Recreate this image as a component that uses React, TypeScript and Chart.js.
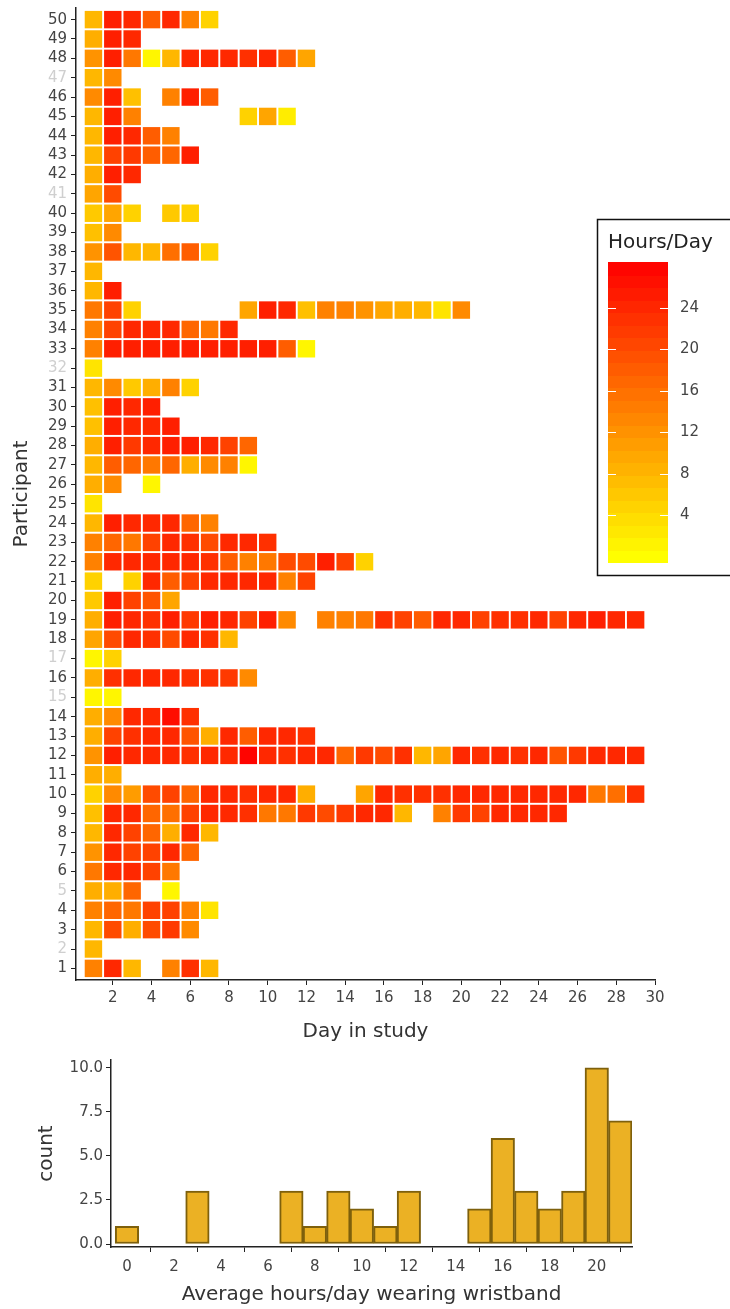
import React, { useEffect, useRef } from "react";
import { Chart, registerables } from "chart.js";

Chart.register(...registerables);

// ---------- DATA ----------
const participants = [
  1, 2, 3, 4, 5, 6, 7, 8, 9, 10, 11, 12, 13, 14, 15, 16, 17, 18, 19, 20, 21, 22, 23, 24, 25,
  26, 27, 28, 29, 30, 31, 32, 33, 34, 35, 36, 37, 38, 39, 40, 41, 42, 43, 44, 45, 46, 47, 48, 49, 50,
];
const greyParticipants = [2, 5, 15, 17, 32, 41, 47];
const dayTicks = [2, 4, 6, 8, 10, 12, 14, 16, 18, 20, 22, 24, 26, 28, 30];
const legendTicks = [4, 8, 12, 16, 20, 24];

// hours/day worn, per participant (index 0 = participant 1), per day in study (index 0 = day 1)
const N = null;
const hoursByParticipant: (number | null)[][] = [
  [14, 24, 8, N, 14, 23, 8], // 1
  [8], // 2
  [8, 20, 9, 20, 22, 13], // 3
  [14, 17, 15, 21, 21, 14, 3], // 4
  [9, 9, 17, N, 1], // 5
  [15, 24, 24, 21, 15], // 6
  [12, 24, 21, 21, 24, 17], // 7
  [8, 24, 21, 17, 9, 24, 8], // 8
  [7, 24, 24, 17, 16, 21, 24, 24, 23, 15, 15, 22, 20, 22, 24, 24, 8, N, 14, 22, 21, 24, 24, 24, 24], // 9
  [5, 13, 11, 20, 21, 17, 24, 24, 23, 24, 24, 9, N, N, 10, 24, 23, 23, 23, 24, 24, 24, 24, 24, 24, 24, 15, 16, 23], // 10
  [9, 9], // 11
  [12, 25, 24, 24, 24, 23, 24, 24, 28, 24, 23, 24, 24, 17, 22, 20, 23, 8, 10, 24, 23, 24, 23, 24, 19, 22, 24, 24, 24], // 12
  [9, 21, 23, 24, 24, 19, 9, 24, 18, 24, 24, 23], // 13
  [9, 13, 24, 24, 27, 23], // 14
  [1, 1], // 15
  [9, 23, 24, 24, 24, 23, 23, 22, 13], // 16
  [1, 5], // 17
  [10, 20, 24, 23, 20, 24, 23, 8], // 18
  [9, 25, 24, 23, 25, 22, 25, 24, 21, 25, 13, N, 14, 14, 15, 23, 21, 18, 24, 24, 21, 23, 23, 24, 21, 24, 25, 24, 24], // 19
  [6, 25, 21, 19, 10], // 20
  [5, N, 5, 24, 18, 21, 24, 24, 24, 24, 14, 21], // 21
  [14, 24, 24, 24, 24, 24, 23, 18, 14, 15, 20, 20, 25, 21, 5], // 22
  [14, 17, 15, 21, 24, 23, 20, 24, 24, 23], // 23
  [8, 25, 24, 24, 24, 17, 14], // 24
  [3], // 25
  [9, 13, N, 1], // 26
  [8, 18, 17, 15, 17, 9, 13, 14, 1], // 27
  [9, 25, 22, 24, 25, 25, 24, 21, 17], // 28
  [7, 25, 24, 24, 25], // 29
  [7, 25, 24, 25], // 30
  [8, 13, 6, 9, 14, 5], // 31
  [3], // 32
  [14, 25, 25, 25, 25, 25, 25, 25, 25, 25, 18, 1], // 33
  [14, 21, 24, 24, 24, 17, 15, 24], // 34
  [15, 21, 5, N, N, N, N, N, 10, 25, 24, 7, 14, 14, 12, 10, 9, 8, 3, 13], // 35
  [8, 25], // 36
  [8], // 37
  [12, 19, 8, 8, 16, 18, 5], // 38
  [7, 13], // 39
  [6, 10, 5, N, 6, 5], // 40
  [10, 20], // 41
  [9, 25, 24], // 42
  [8, 21, 22, 18, 17, 25], // 43
  [8, 25, 24, 18, 14], // 44
  [8, 25, 14, N, N, N, N, N, 5, 10, 2], // 45
  [13, 25, 7, N, 14, 25, 18], // 46
  [8, 13], // 47
  [12, 25, 15, 1, 8, 24, 24, 24, 23, 24, 18, 10], // 48
  [9, 25, 24], // 49
  [8, 25, 24, 18, 24, 14, 5], // 50
];

const histBins = [0, 1, 2, 3, 4, 5, 6, 7, 8, 9, 10, 11, 12, 13, 14, 15, 16, 17, 18, 19, 20, 21];
const histCounts = [1, 0, 0, 3, 0, 0, 0, 3, 1, 3, 2, 1, 3, 0, 0, 2, 6, 3, 2, 3, 10, 7];
const histTicks = [0, 2, 4, 6, 8, 10, 12, 14, 16, 18, 20];
const countTicks = [0, 2.5, 5, 7.5, 10];

// ---------- STYLE ----------
const FONT = "'DejaVu Sans', sans-serif";
const TICK_COLOR = "#444";
const TITLE_COLOR = "#333";
const AXIS_COLOR = "#222";
const V_MIN = -0.5;
const V_MAX = 28.4;

function heatColor(v: number) {
  const t = Math.min(Math.max(v, 0), V_MAX) / V_MAX;
  return `rgb(255,${Math.round(255 * (1 - t))},0)`;
}

const legendPlugin = {
  id: "hoursLegend",
  afterDraw(chart: any) {
    const ctx = chart.ctx as CanvasRenderingContext2D;
    ctx.save();
    const bx = 597, by = 219, bw = 170, bh = 356;
    ctx.fillStyle = "#fff";
    ctx.fillRect(bx, by, bw, bh);
    ctx.strokeStyle = "#111";
    ctx.lineWidth = 1.5;
    ctx.strokeRect(bx + 0.5, by + 0.5, bw, bh);
    ctx.fillStyle = "#222";
    ctx.font = `20px ${FONT}`;
    ctx.textBaseline = "middle";
    ctx.textAlign = "left";
    ctx.fillText("Hours/Day", 608, 243);

    const left = 608, width = 60, top = 262, bottom = 562;
    const yOf = (v: number) => bottom - ((v - V_MIN) / (V_MAX - V_MIN)) * (bottom - top);
    const n = 24;
    const step = (V_MAX - V_MIN) / n;
    for (let i = 0; i < n; i++) {
      const v0 = V_MIN + i * step;
      const y1 = yOf(v0 + step);
      const y0 = yOf(v0);
      ctx.fillStyle = heatColor(v0 + step / 2);
      ctx.fillRect(left, Math.floor(y1), width, Math.ceil(y0 - y1) + 1);
    }
    ctx.strokeStyle = "#fff";
    ctx.lineWidth = 1;
    ctx.font = `15px ${FONT}`;
    legendTicks.forEach((t) => {
      const y = Math.round(yOf(t)) + 0.5;
      ctx.beginPath();
      ctx.moveTo(left, y);
      ctx.lineTo(left + 8, y);
      ctx.moveTo(left + width - 8, y);
      ctx.lineTo(left + width, y);
      ctx.stroke();
      ctx.fillStyle = TICK_COLOR;
      ctx.fillText(String(t), 680, y);
    });
    ctx.restore();
  },
};

function HeatmapChart() {
  const ref = useRef<HTMLCanvasElement | null>(null);
  useEffect(() => {
    const cells: { x: number; y: number; v: number }[] = [];
    hoursByParticipant.forEach((row, pi) =>
      row.forEach((h, di) => {
        if (h !== null) cells.push({ x: di + 1, y: participants[pi], v: h });
      })
    );
    const cellRadius = (chart: any) => {
      const xs = chart.scales.x;
      if (!xs) return 10;
      return ((xs.getPixelForValue(1) - xs.getPixelForValue(0)) * 0.9) / Math.SQRT2;
    };
    const chart = new Chart(ref.current as HTMLCanvasElement, {
      type: "scatter",
      data: {
        datasets: [
          {
            data: cells as any,
            pointStyle: "rect",
            pointRadius: (c: any) => cellRadius(c.chart),
            pointBackgroundColor: (c: any) => heatColor(c.raw ? c.raw.v : 0),
            pointBorderWidth: 0,
            pointBorderColor: "rgba(0,0,0,0)",
          } as any,
        ],
      },
      options: {
        animation: false,
        responsive: false,
        devicePixelRatio: 1,
        events: [],
        layout: { padding: { left: 6, top: 8, right: 75, bottom: 6 } },
        plugins: { legend: { display: false }, tooltip: { enabled: false } },
        scales: {
          x: {
            type: "linear",
            position: "bottom",
            min: 0.1,
            max: 30,
            afterBuildTicks: (s: any) => {
              s.ticks = dayTicks.map((v) => ({ value: v }));
            },
            afterFit: (s: any) => {
              s.height = 64;
              s.paddingLeft = 0;
              s.paddingRight = 0;
            },
            ticks: { font: { family: FONT, size: 15 }, color: TICK_COLOR, padding: 4, maxRotation: 0, autoSkip: false },
            grid: { drawOnChartArea: false, drawTicks: true, tickLength: 5, color: AXIS_COLOR },
            border: { display: true, color: AXIS_COLOR, width: 1.5 },
            title: {
              display: true,
              text: "Day in study",
              font: { family: FONT, size: 20 },
              color: TITLE_COLOR,
              padding: { top: 4, bottom: 0 },
            },
          },
          y: {
            type: "linear",
            min: 0.4,
            max: 50.6,
            afterBuildTicks: (s: any) => {
              s.ticks = participants.map((v) => ({ value: v }));
            },
            afterFit: (s: any) => {
              s.width = 70;
              s.paddingTop = 0;
              s.paddingBottom = 0;
            },
            ticks: {
              font: { family: FONT, size: 15 },
              color: (c: any) => (greyParticipants.includes(c.tick.value) ? "#cfcfcf" : TICK_COLOR),
              padding: 4,
              autoSkip: false,
            },
            grid: { drawOnChartArea: false, drawTicks: true, tickLength: 5, color: AXIS_COLOR },
            border: { display: true, color: AXIS_COLOR, width: 1.5 },
            title: {
              display: true,
              text: "Participant",
              font: { family: FONT, size: 20 },
              color: TITLE_COLOR,
              padding: { top: 4, bottom: 4 },
            },
          },
        },
      },
      plugins: [legendPlugin],
    });
    return () => chart.destroy();
  }, []);
  return <canvas ref={ref} width={730} height={1050} style={{ display: "block", width: 730, height: 1050 }} />;
}

function HistogramChart() {
  const ref = useRef<HTMLCanvasElement | null>(null);
  useEffect(() => {
    const chart = new Chart(ref.current as HTMLCanvasElement, {
      type: "bar",
      data: {
        datasets: [
          {
            data: histBins.map((b, i) => ({ x: b, y: histCounts[i] })) as any,
            backgroundColor: "#EBB124",
            borderColor: "#7E600C",
            borderWidth: 2,
            borderSkipped: false,
            barPercentage: 1,
            categoryPercentage: 1,
          } as any,
        ],
      },
      options: {
        animation: false,
        responsive: false,
        devicePixelRatio: 1,
        events: [],
        layout: { padding: { left: 31, top: 10, right: 98, bottom: 2 } },
        plugins: { legend: { display: false }, tooltip: { enabled: false } },
        scales: {
          x: {
            type: "linear",
            min: -0.68,
            max: 21.5,
            offset: false,
            afterBuildTicks: (s: any) => {
              s.ticks = histTicks.map((v) => ({ value: v }));
            },
            afterFit: (s: any) => {
              s.height = 60;
              s.paddingLeft = 0;
              s.paddingRight = 0;
            },
            ticks: { font: { family: FONT, size: 15 }, color: TICK_COLOR, padding: 6, maxRotation: 0, autoSkip: false },
            grid: { drawOnChartArea: false, drawTicks: true, tickLength: 5, color: AXIS_COLOR },
            border: { display: true, color: AXIS_COLOR, width: 1.5 },
            title: {
              display: true,
              text: "Average hours/day wearing wristband",
              font: { family: FONT, size: 20 },
              color: TITLE_COLOR,
              padding: { top: 4, bottom: 0 },
            },
          },
          y: {
            type: "linear",
            min: -0.17,
            max: 10.45,
            afterBuildTicks: (s: any) => {
              s.ticks = countTicks.map((v) => ({ value: v }));
            },
            afterFit: (s: any) => {
              s.width = 80;
              s.paddingTop = 0;
              s.paddingBottom = 0;
            },
            ticks: {
              font: { family: FONT, size: 15 },
              color: TICK_COLOR,
              padding: 3,
              autoSkip: false,
              callback: (v: any) => Number(v).toFixed(1),
            },
            grid: { drawOnChartArea: false, drawTicks: true, tickLength: 5, color: AXIS_COLOR },
            border: { display: true, color: AXIS_COLOR, width: 1.5 },
            title: {
              display: true,
              text: "count",
              font: { family: FONT, size: 20 },
              color: TITLE_COLOR,
              padding: { top: 4, bottom: 4 },
            },
          },
        },
      },
    });
    return () => chart.destroy();
  }, []);
  return <canvas ref={ref} width={730} height={259} style={{ display: "block", width: 730, height: 259 }} />;
}

export default function App() {
  return (
    <div style={{ position: "absolute", left: 0, top: 0, width: 730, height: 1309, background: "#fff", overflow: "hidden" }}>
      <HeatmapChart />
      <HistogramChart />
    </div>
  );
}
